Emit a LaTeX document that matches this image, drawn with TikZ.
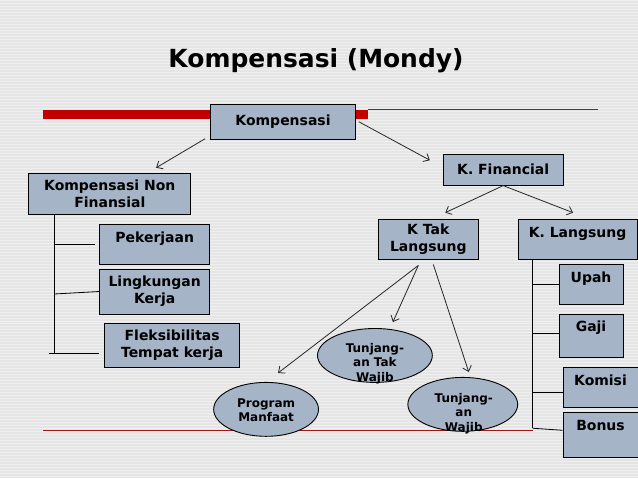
\documentclass[tikz,border=0pt]{standalone}
\usepackage{fontspec}
\setmainfont{DejaVu Sans}
\usetikzlibrary{arrows.meta,calc,shapes.geometric}
\definecolor{boxfill}{HTML}{A5B4C6}
\definecolor{bg}{HTML}{E5E5E5}
\definecolor{stripe}{HTML}{EFEFEF}
\definecolor{redbar}{HTML}{C00000}
\definecolor{redline}{HTML}{A01818}
\begin{document}
\begin{tikzpicture}[x=1pt,y=-1pt,
 box/.style={draw=black, line width=0.9pt, fill=boxfill, font=\bfseries\fontsize{14}{17}\selectfont, align=center, inner sep=0pt, anchor=north west},
 topbox/.style={box, text height=18pt, text depth=#1},
 ell/.style={ellipse, draw=black, line width=0.9pt, fill=boxfill, inner sep=0pt},
 etext/.style={font=\bfseries\fontsize{12}{14.5}\selectfont, align=center, inner sep=0pt},
 arr/.style={draw=black!85, line width=0.8pt, -{Straight Barb[length=5pt,width=9pt]}},
 tree/.style={draw=black, line width=0.8pt}]
% background
\fill[bg] (0,0) rectangle (638,479);
\foreach \i in {0,3,...,477} \draw[stripe, line width=1pt] (0,\i+0.5) -- (638,\i+0.5);
\useasboundingbox (0,0) rectangle (638,479);
% red decorations
\fill[redbar] (43,110) rectangle (368,119);
\draw[redline, line width=1.3pt] (368,109.5) -- (598,109.5);
\draw[redline, line width=1pt] (43,431) -- (533,431);
% title
\node[font=\bfseries\fontsize{25}{29}\selectfont, anchor=base, inner sep=0pt] (title) at (316,68) {Kompensasi (Mondy)};
% boxes
\node[box, minimum width=145pt, minimum height=35pt] (komp) at (210,104) {Kompensasi};
\node[box, minimum width=162pt, minimum height=41pt] (nonfin) at (28,173) {Kompensasi Non\\Finansial};
\node[box, minimum width=120pt, minimum height=31pt] (fin) at (443,154) {K. Financial};
\node[box, minimum width=100pt, minimum height=40pt] (taklang) at (378,219) {K Tak\\Langsung};
\node[topbox=22pt, minimum width=119pt] (lang) at (518,219) {K. Langsung};
\node[topbox=22pt, minimum width=110pt] (pek) at (99,224) {Pekerjaan};
\node[box, minimum width=110pt, minimum height=45pt] (ling) at (99,269) {Lingkungan\\Kerja};
\node[box, minimum width=135pt, minimum height=45pt] (flex) at (104,323) {Fleksibilitas\\Tempat kerja};
\node[topbox=22pt, minimum width=64pt] (upah) at (559,264) {Upah};
\node[topbox=26pt, minimum width=64pt] (gaji) at (559,314) {Gaji};
\node[topbox=22pt, minimum width=75pt] (komisi) at (563,368) {Komisi};
\node[topbox=27pt, minimum width=75pt] (bonus) at (563,413) {Bonus};
% ellipses
\node[ell, minimum width=115pt, minimum height=54pt] (tw) at (375,356) {};
\node[ell, minimum width=105pt, minimum height=54pt] (pm) at (266,410) {};
\node[ell, minimum width=110pt, minimum height=54pt] (wj) at (463,405) {};
\node[etext] (twt) at (375,364) {Tunjang-\\an Tak\\Wajib};
\node[etext] (pmt) at (266,411) {Program\\Manfaat};
\node[etext] (wjt) at (464,414) {Tunjang-\\an\\Wajib};
% arrows
\draw[arr] ($(komp.south west)+(-5,-1)$) -- ($(nonfin.north east)+(-35,-5)$);
\draw[arr] ($(komp.east)+(3,0)$) -- ($(fin.west)+(-13,-9.5)$);
\draw[arr] (fin.south) -- ($(taklang.north)+(17,-6)$);
\draw[arr] (fin.south) -- ($(lang.north)+(-4.5,-6)$);
\draw[arr] ($(taklang.south)+(-10,6)$) -- ($(pm.north)+(12,-9)$);
\draw[arr] ($(taklang.south)+(-10,6)$) -- ($(tw.north)+(18,-6)$);
\draw[arr] ($(taklang.south)+(5,5)$) -- ($(wj.north)+(6,-5)$);
% left tree
\coordinate (lb) at ($(nonfin.south west)+(26,139)$);
\draw[tree] ($(nonfin.south west)+(26,0)$) -- (lb);
\draw[tree] (pek.west -| lb) -- ($(pek.west)+(-4,0)$);
\draw[tree] ($(ling.west -| lb)+(0,2.5)$) -- (ling.west);
\draw[tree] ($(lb)+(-5,0)$) -- ($(flex.south west)+(-5,-15)$);
% right tree
\coordinate (rb) at ($(lang.south west)+(15,169)$);
\draw[tree] ($(lang.south west)+(15,0)$) -- (rb);
\draw[tree] (upah.west -| rb) -- (upah.west);
\draw[tree] ($(gaji.west -| rb)+(0,-3)$) -- ($(gaji.west)+(0,-3)$);
\draw[tree] ($(komisi.west -| rb)+(0,5)$) -- ($(komisi.west)+(0,5)$);
\draw[tree] (rb) -- ($(bonus.west)+(0,-5)$);
\end{tikzpicture}
\end{document}
